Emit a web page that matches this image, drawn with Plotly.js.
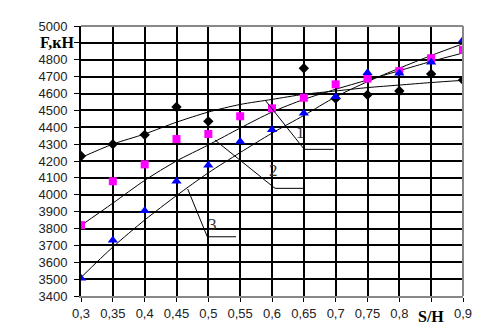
<!DOCTYPE html>
<html><head><meta charset="utf-8">
<script src="https://cdn.plot.ly/plotly-3.0.1.min.js"></script>
<style>html,body{margin:0;padding:0;background:#fff;}#chart{width:493px;height:335px;}</style>
</head><body><div id="chart"></div>
<script>
// S/H values
const xVals = [0.3,0.35,0.4,0.45,0.5,0.55,0.6,0.65,0.7,0.75,0.8,0.85,0.9];
// Series 1 (black diamonds) measured points
const s1x = [0.3,0.35,0.4,0.45,0.5,0.65,0.7,0.75,0.8,0.85,0.9];
const s1y = [4230,4300,4355,4520,4435,4750,4570,4592,4615,4716,4680];
// Series 2 (magenta squares)
const s2y = [3820,4080,4180,4330,4360,4465,4512,4575,4654,4688,4733,4809,4858];
// Series 3 (blue triangles)
const s3y = [3505,3730,3905,4080,4175,4315,4385,4483,4581,4723,4720,4785,4917];
// Trend curves
const t1y = [4220,4300,4360,4430,4490,4535,4565,4595,4615,4635,4650,4665,4678];
const t2y = [3818,3950,4085,4200,4295,4395,4490,4565,4625,4680,4735,4790,4840];
const t3y = [3510,3690,3850,3995,4130,4250,4365,4470,4580,4670,4750,4825,4895];
// tick labels
const xTickVals = [0.3,0.35,0.4,0.45,0.5,0.55,0.6,0.65,0.7,0.75,0.8,0.85,0.9];
const xTickText = ["0,3","0,35","0,4","0,45","0,5","0,55","0,6","0,65","0,7","0,75","0,8","","0,9"];
const yTickVals = [3400,3500,3600,3700,3800,3900,4000,4100,4200,4300,4400,4500,4600,4700,4800,4900,5000];
const yTickText = ["3400","3500","3600","3700","3800","3900","4000","4100","4200","4300","4400","4500","4600","4700","4800","","5000"];
const xLabel = "S/H";
const yLabel = "F,кН";
const curveLabels = ["1","2","3"];

const trendLine = {color:'#000', width:1, shape:'spline', smoothing:0.8};
const traces = [
  {x:xVals, y:t1y, mode:'lines', line:trendLine, hoverinfo:'skip'},
  {x:xVals, y:t2y, mode:'lines', line:trendLine, hoverinfo:'skip'},
  {x:xVals, y:t3y, mode:'lines', line:trendLine, hoverinfo:'skip'},
  {x:s1x, y:s1y, mode:'markers', marker:{symbol:'diamond', size:8, color:'#000'}},
  {x:xVals, y:s2y, mode:'markers', marker:{symbol:'square', size:8, color:'#FF00FF'}},
  {x:xVals, y:s3y, mode:'markers', marker:{symbol:'triangle-up', size:9, color:'#0000FF'}}
];

const tickFont = {family:'"Liberation Sans", Arial, sans-serif', size:13, color:'#222'};
const lblFont = {family:'"Liberation Serif", "Times New Roman", serif', size:16, color:'#000'};
const numFont = {family:'"Liberation Serif", "Times New Roman", serif', size:17, color:'#333'};

const leader = (pts) => ({type:'path', xref:'x', yref:'y',
  path:'M'+pts.map(p=>p[0]+','+p[1]).join(' L'), line:{color:'#000', width:1}});

const layout = {
  width:493, height:335,
  margin:{l:81, r:30, t:26, b:39},
  paper_bgcolor:'#fff', plot_bgcolor:'#fff',
  showlegend:false,
  xaxis:{range:[0.3,0.9], tickvals:xTickVals, ticktext:xTickText, tickfont:tickFont,
    showgrid:true, gridcolor:'#000', gridwidth:2, zeroline:false,
    ticks:'outside', ticklen:4, tickcolor:'#000', showline:true, linecolor:'#888', linewidth:2,
    mirror:false, fixedrange:true},
  yaxis:{range:[3400,5000], tickvals:yTickVals, ticktext:yTickText, tickfont:tickFont,
    showgrid:true, gridcolor:'#000', gridwidth:2, zeroline:false,
    ticks:'outside', ticklen:5, tickcolor:'#000', showline:true, linecolor:'#000', linewidth:2,
    ticklabelstandoff:4, fixedrange:true},
  shapes:[
    {type:'line', xref:'paper', yref:'paper', x0:1, x1:1, y0:0, y1:1, line:{color:'#888', width:2}},
    {type:'line', xref:'paper', yref:'paper', x0:0, x1:1, y0:1, y1:1, line:{color:'#888', width:2}},
    leader([[0.589,4562],[0.6508,4269],[0.6967,4269]]),
    leader([[0.5105,4324],[0.6048,4038],[0.6508,4038]]),
    leader([[0.4676,4034],[0.4984,3751],[0.5435,3751]])
  ],
  annotations:[
    {xref:'paper', yref:'y', x:0, y:4900, xanchor:'right', yanchor:'middle', xshift:-4,
      text:'<b>'+yLabel+'</b>', showarrow:false, font:lblFont},
    {xref:'x', yref:'paper', x:0.85, y:0, xanchor:'center', yanchor:'middle', yshift:-20,
      text:'<b>'+xLabel+'</b>', showarrow:false, font:lblFont},
    {xref:'x', yref:'y', x:0.644, y:4366, text:curveLabels[0], showarrow:false, font:numFont},
    {xref:'x', yref:'y', x:0.6016, y:4141, text:curveLabels[1], showarrow:false, font:numFont},
    {xref:'x', yref:'y', x:0.507, y:3821, text:curveLabels[2], showarrow:false, font:numFont}
  ]
};
Plotly.newPlot('chart', traces, layout, {displayModeBar:false, staticPlot:true});
</script></body></html>
